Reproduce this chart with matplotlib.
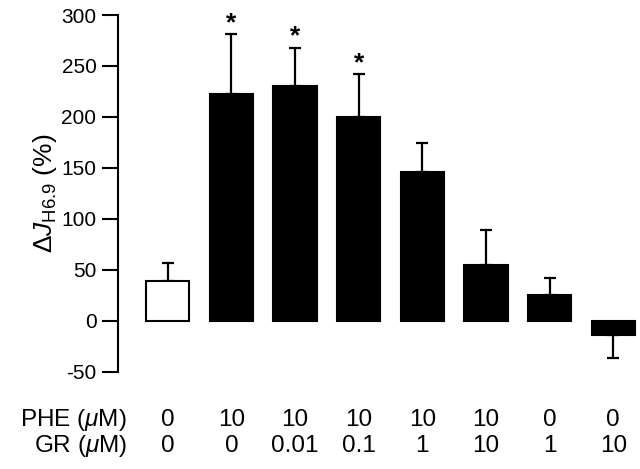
import matplotlib
matplotlib.use('Agg')
import matplotlib.pyplot as plt
import matplotlib.transforms as mtransforms

plt.rcParams['font.family'] = ['Liberation Sans', 'DejaVu Sans']
plt.rcParams['mathtext.fontset'] = 'custom'
plt.rcParams['mathtext.rm'] = 'Liberation Sans'
plt.rcParams['mathtext.it'] = 'Liberation Sans:italic'
plt.rcParams['axes.unicode_minus'] = False

# values
phe = ['0', '10', '10', '10', '10', '10', '0', '0']
gr = ['0', '0', '0.01', '0.1', '1', '10', '1', '10']
means = [39, 222, 230, 200, 146, 55, 25, -14]
sem = [18, 59, 38, 42, 28, 34, 17, 23]
signif = [False, True, True, True, False, False, False, False]

fig = plt.figure(figsize=(6.4, 4.69), dpi=100)
ax = fig.add_axes([0.1844, 0.2075, 0.8156, 0.7605])

x = list(range(len(means)))
colors = ['white'] + ['black'] * (len(means) - 1)
ax.bar(x, means, width=0.68, color=colors, edgecolor='black', linewidth=1.5, zorder=2)

# one-sided error bars
for xi, m, e in zip(x, means, sem):
    if m >= 0:
        ax.errorbar(xi, m, yerr=[[0], [e]], fmt='none', ecolor='black',
                    elinewidth=1.6, capsize=4, capthick=1.6, zorder=1)
    else:
        ax.errorbar(xi, m, yerr=[[e], [0]], fmt='none', ecolor='black',
                    elinewidth=1.6, capsize=4, capthick=1.6, zorder=1)

for xi, m, e, s in zip(x, means, sem, signif):
    if s:
        ax.text(xi, m + e - 1, '*', ha='center', va='bottom', fontsize=19,
                fontweight='bold', clip_on=False)

ax.set_xlim(-0.78, 7.42)
ax.set_ylim(-50, 300)
ax.set_yticks(range(-50, 301, 50))
ax.set_xticks([])
for side in ['top', 'right', 'bottom']:
    ax.spines[side].set_visible(False)
ax.spines['left'].set_linewidth(1.5)
ax.tick_params(axis='y', direction='out', length=11.5, width=1.5, labelsize=15, pad=4)
ax.set_ylabel(r'$\Delta \mathit{J}_{\mathrm{H6.9}}$ (%)', fontsize=19, labelpad=2)

# treatment table under the axis
trans = mtransforms.blended_transform_factory(ax.transData, fig.transFigure)
y_phe = 1 - 425.7 / 469
y_gr = 1 - 452.3 / 469
for xi, p, g in zip(x, phe, gr):
    ax.text(xi, y_phe, p, transform=trans, ha='center', va='baseline', fontsize=17.5)
    ax.text(xi, y_gr, g, transform=trans, ha='center', va='baseline', fontsize=17.5)
fig.text(127 / 640, y_phe, r'PHE ($\mu$M)', ha='right', va='baseline', fontsize=17.5)
fig.text(127 / 640, y_gr, r'GR ($\mu$M)', ha='right', va='baseline', fontsize=17.5)

fig.savefig('out.png', dpi=100)
